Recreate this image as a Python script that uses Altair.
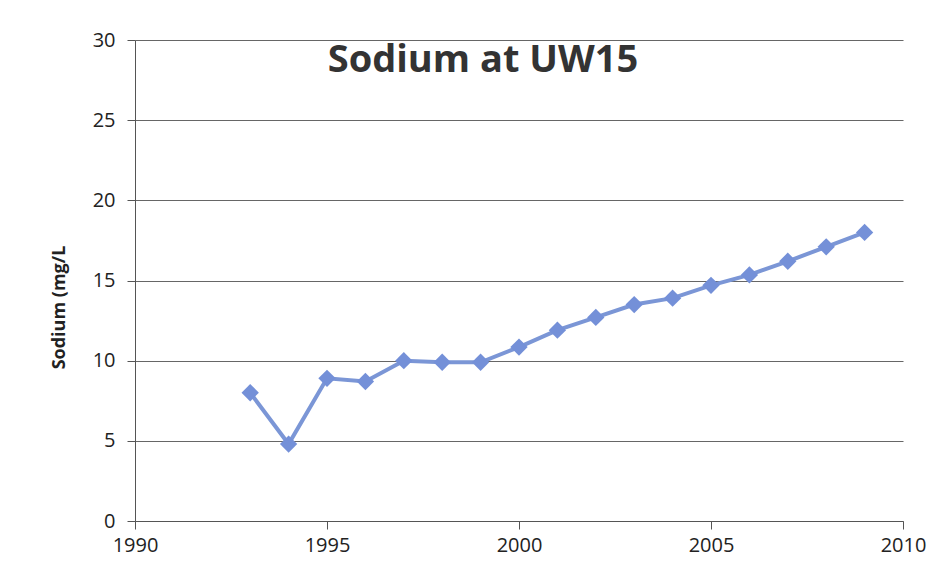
import altair as alt
import pandas as pd

years = [1993, 1994, 1995, 1996, 1997, 1998, 1999, 2000, 2001, 2002,
         2003, 2004, 2005, 2006, 2007, 2008, 2009]
sodium = [8.0, 4.8, 8.9, 8.7, 10.0, 9.9, 9.9, 10.85, 11.9, 12.7,
          13.5, 13.9, 14.7, 15.35, 16.2, 17.1, 18.0]
x_ticks = [1990, 1995, 2000, 2005, 2010]
y_ticks = [0, 5, 10, 15, 20, 25, 30]

df = pd.DataFrame({"year": years, "sodium": sodium})

font = "Open Sans"
color = "#7b96d6"

x = alt.X("year:Q", scale=alt.Scale(domain=[1990, 2010], nice=False, zero=False),
          axis=alt.Axis(values=x_ticks, format="d", title=None, grid=False,
                        labelFontSize=20, labelFont=font, labelColor="#222",
                        labelPadding=6, tickSize=8, tickColor="#555",
                        domainColor="#555", labelFlush=False))
y = alt.Y("sodium:Q", scale=alt.Scale(domain=[0, 30], nice=False),
          axis=alt.Axis(values=y_ticks, title="Sodium (mg/L", titleFont=font,
                        titleFontSize=18, titleFontWeight="bold", titleColor="#222",
                        titleX=-76, titleY=267, titleAlign="center",
                        titleBaseline="middle", titleAngle=270,
                        labelFontSize=20, labelFont=font,
                        labelColor="#222", labelPadding=12, tickSize=8,
                        tickColor="#555", domainColor="#555", gridColor="#666",
                        gridWidth=1))

line = alt.Chart(df).mark_line(color=color, strokeWidth=4).encode(x=x, y=y)
pts = alt.Chart(df).mark_point(shape="diamond", filled=True, size=300,
                               color="#7490d8", opacity=1).encode(x=x, y=y)

chart = (line + pts).properties(
    width=768, height=481,
    background="white",
    title=alt.TitleParams("Sodium at UW15", font=font, fontSize=38,
                          fontWeight="bold", color="#333", offset=-50, dx=-36),
    autosize=alt.AutoSizeParams(type="none"),
    padding={"left": 127, "top": 32, "right": 34, "bottom": 55},
).configure_view(stroke=None, strokeWidth=0)

chart.save("out.html", embed_options={"renderer": "svg", "actions": False})
